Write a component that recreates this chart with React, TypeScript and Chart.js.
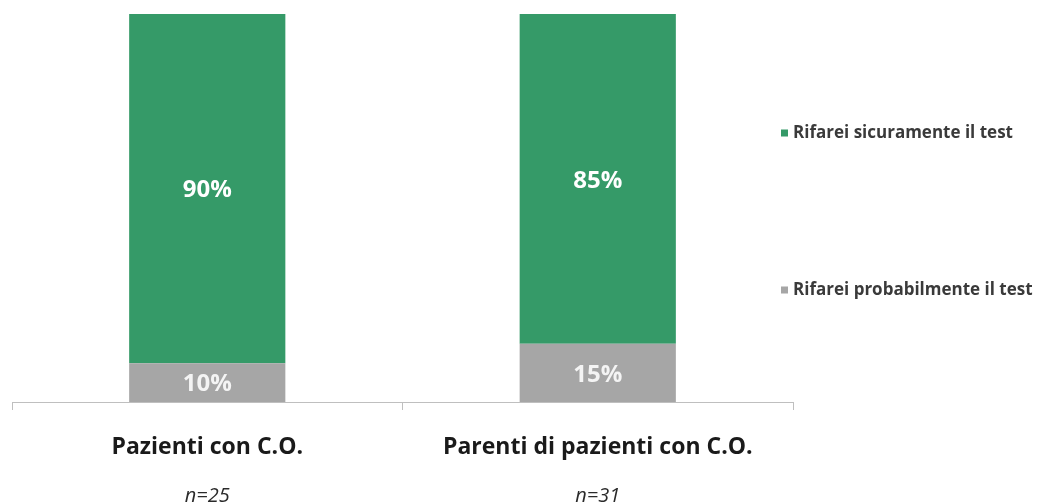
import React, { useEffect, useRef } from "react";
import { Chart, registerables } from "chart.js";

Chart.register(...registerables);

const categories = ["Pazienti con C.O.", "Parenti di pazienti con C.O."];
const sampleSizes = ["n=25", "n=31"];
const probabilmente = [10, 15];
const sicuramente = [90, 85];
const seriesNames = ["Rifarei probabilmente il test", "Rifarei sicuramente il test"];

const GREEN = "#359a68";
const GRAY = "#a6a6a6";
const FONT = "'Open Sans', 'Liberation Sans', sans-serif";

const valueLabels = {
  id: "valueLabels",
  afterDatasetsDraw(chart: any) {
    const ctx = chart.ctx;
    ctx.save();
    ctx.font = "bold 24px " + FONT;
    ctx.textAlign = "center";
    ctx.textBaseline = "middle";
    chart.data.datasets.forEach((ds: any, di: number) => {
      const meta = chart.getDatasetMeta(di);
      meta.data.forEach((el: any, i: number) => {
        const v = ds.data[i];
        const y = (el.y + el.base) / 2 + 2;
        ctx.fillStyle = di === 0 ? "#f4f4f4" : "#ffffff";
        ctx.fillText(v + "%", el.x, y);
      });
    });
    ctx.restore();
  },
};

const sideLegend = {
  id: "sideLegend",
  afterDraw(chart: any, _args: any, opts: any) {
    const ctx = chart.ctx;
    ctx.save();
    ctx.font = "bold 17px " + FONT;
    ctx.textBaseline = "middle";
    ctx.textAlign = "left";
    const order = [1, 0];
    order.forEach((di, k) => {
      const ds = chart.data.datasets[di];
      const y = opts.ys[k];
      ctx.fillStyle = ds.backgroundColor;
      ctx.fillRect(opts.x, y - 3.5, 7, 7);
      ctx.fillStyle = "#3a3a3a";
      ctx.fillText(ds.label, opts.x + 12, y);
    });
    ctx.restore();
  },
};

export default function App() {
  const ref = useRef<HTMLCanvasElement | null>(null);
  useEffect(() => {
    if (!ref.current) return;
    const chart = new Chart(ref.current, {
      type: "bar",
      data: {
        labels: categories,
        datasets: [
          { label: seriesNames[0], data: probabilmente, backgroundColor: GRAY, barPercentage: 0.4, categoryPercentage: 1 },
          { label: seriesNames[1], data: sicuramente, backgroundColor: GREEN, barPercentage: 0.4, categoryPercentage: 1 },
        ],
      },
      options: {
        responsive: false,
        animation: false,
        layout: { padding: { left: 12, right: 246, top: 14, bottom: 0 } },
        plugins: {
          legend: { display: false },
          tooltip: { enabled: false },
          sideLegend: { x: 781, ys: [133, 290] },
        } as any,
        scales: {
          x: {
            stacked: true,
            grid: { display: true, drawOnChartArea: false, drawTicks: true, tickLength: 8, color: "#bfbfbf", offset: true },
            border: { display: true, color: "#bfbfbf", width: 1 },
            ticks: {
              color: "#1a1a1a",
              padding: 24,
              font: { family: FONT, size: 23, weight: "bold" },
            },
            afterFit: (s: any) => { s.height = 62; },
          },
          x2: {
            type: "category",
            labels: sampleSizes,
            position: "bottom",
            offset: true,
            grid: { display: false },
            border: { display: false },
            ticks: {
              color: "#2a2a2a",
              padding: 12,
              font: { family: FONT, size: 20, style: "italic" },
            },
            afterFit: (s: any) => { s.height = 39; },
          },
          y: {
            stacked: true,
            display: false,
            min: 0,
            max: 100,
          },
        },
      },
      plugins: [valueLabels, sideLegend],
    });
    return () => chart.destroy();
  }, []);
  return (
    <div style={{ position: "fixed", left: 0, top: 0, width: 1039, height: 503, background: "#fff" }}>
      <canvas ref={ref} width={1039} height={503} style={{ display: "block" }} />
    </div>
  );
}
